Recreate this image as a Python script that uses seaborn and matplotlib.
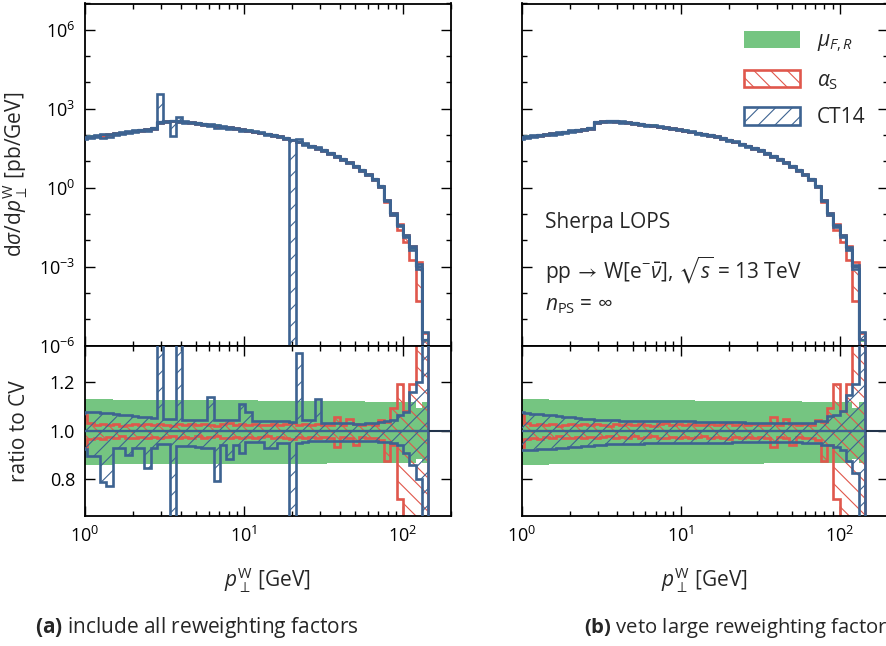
import numpy as np
import matplotlib
matplotlib.use("Agg")
import matplotlib.pyplot as plt
import seaborn as sns
from matplotlib.ticker import FixedLocator, FixedFormatter, NullFormatter
from matplotlib.patches import Patch

# ---------------- data ----------------
# log-spaced pT bins [GeV]
bin_edges = np.logspace(-0.0244, 2.1586, 56)

# central value dsigma/dpT [pb/GeV]
cv = [79.4, 85.1, 91.2, 97.7, 104.7, 112.2, 120.2, 128.8, 141.3, 151.4,
      162.2, 177.8, 302.0, 323.6, 338.8, 331.1, 316.2, 295.1, 275.4, 257.0,
      239.9, 223.9, 204.2, 190.5, 173.8, 158.5, 144.5, 131.8, 120.2, 109.6,
      97.7, 87.1, 75.9, 64.6, 55.0, 45.7, 38.0, 31.6, 26.3, 20.4,
      15.8, 12.0, 8.91, 6.46, 4.57, 3.16, 2.09, 1.12, 0.316, 0.100,
      0.0355, 0.0141, 0.0050, 0.0010, 1.6e-6]

# scale variations (ratio to CV)
muFR_hi = [1.130, 1.130, 1.129, 1.129, 1.129, 1.128, 1.128, 1.128, 1.128, 1.127,
           1.127, 1.127, 1.127, 1.127, 1.127, 1.127, 1.126, 1.126, 1.126, 1.126,
           1.126, 1.126, 1.125, 1.125, 1.125, 1.125, 1.125, 1.125, 1.124, 1.124,
           1.124, 1.124, 1.124, 1.123, 1.123, 1.123, 1.123, 1.122, 1.122, 1.122,
           1.122, 1.121, 1.121, 1.121, 1.121, 1.120, 1.120, 1.120, 1.120, 1.119,
           1.118, 1.118, 1.117, 1.092, 1.118]
muFR_lo = [0.860, 0.861, 0.861, 0.861, 0.861, 0.862, 0.862, 0.862, 0.862, 0.862,
           0.862, 0.862, 0.863, 0.863, 0.863, 0.863, 0.863, 0.863, 0.863, 0.863,
           0.864, 0.864, 0.864, 0.864, 0.864, 0.864, 0.864, 0.864, 0.864, 0.865,
           0.865, 0.865, 0.865, 0.865, 0.865, 0.865, 0.865, 0.865, 0.865, 0.866,
           0.866, 0.866, 0.866, 0.866, 0.866, 0.866, 0.867, 0.867, 0.867, 0.867,
           0.867, 0.868, 0.868, 0.882, 0.866]

# alpha_s variations (ratio to CV)
alphas_hi = [1.065, 1.030, 1.024, 1.028, 1.022, 1.027, 1.020, 1.024, 1.029, 1.022,
             1.026, 1.023, 1.028, 1.024, 1.021, 1.027, 1.023, 1.026, 1.022, 1.028,
             1.025, 1.021, 1.026, 1.030, 1.024, 1.027, 1.022, 1.029, 1.025, 1.023,
             1.028, 1.022, 1.026, 1.030, 1.024, 1.027, 1.023, 1.028, 1.024, 1.025,
             1.055, 1.024, 1.050, 1.027, 1.024, 1.029, 1.022, 1.045, 1.035, 1.095,
             1.190, 1.080, 1.190, 1.550, 1.900]
alphas_lo = [0.935, 0.965, 0.972, 0.968, 0.975, 0.970, 0.977, 0.972, 0.969, 0.976,
             0.971, 0.975, 0.970, 0.974, 0.978, 0.971, 0.975, 0.972, 0.977, 0.970,
             0.974, 0.978, 0.972, 0.969, 0.975, 0.971, 0.976, 0.970, 0.974, 0.977,
             0.971, 0.976, 0.972, 0.968, 0.975, 0.971, 0.976, 0.970, 0.974, 0.972,
             0.935, 0.974, 0.970, 0.943, 0.975, 0.969, 0.972, 0.962, 0.875, 0.940,
             0.720, 0.620, 0.350, 0.050, 0.010]

# CT14 PDF variations, (a) all reweighting factors
ct14_a_hi = [1.079, 1.077, 1.075, 1.073, 1.071, 1.069, 1.066, 1.064, 1.061, 1.058,
             1.055, 1.052, 12.00, 1.050, 1.049, 1.450, 1.046, 1.046, 1.045, 1.045,
             1.140, 1.045, 1.045, 1.044, 1.044, 1.110, 1.075, 1.039, 1.039, 1.038,
             1.038, 1.038, 1.038, 1.037, 1.320, 1.045, 1.045, 1.130, 1.031, 1.031,
             1.030, 1.030, 1.030, 1.029, 1.029, 1.030, 1.031, 1.034, 1.038, 1.045,
             1.065, 1.079, 1.160, 1.200, 2.000]
ct14_a_lo = [0.925, 0.895, 0.895, 0.790, 0.773, 0.929, 0.929, 0.902, 0.930, 0.930,
             0.848, 0.930, 0.945, 0.945, 0.280, 0.936, 0.936, 0.936, 0.935, 0.930,
             0.930, 0.793, 0.943, 0.884, 0.943, 0.910, 0.955, 0.955, 0.955, 0.929,
             0.929, 0.950, 0.950, 1e-9, 0.950, 0.955, 0.956, 0.957, 0.957, 0.957,
             0.957, 0.957, 0.957, 0.957, 0.957, 0.957, 0.957, 0.955, 0.952, 0.950,
             0.943, 0.910, 0.860, 0.800, 0.050]

# CT14 PDF variations, (b) large reweighting factors vetoed
ct14_b_hi = [1.075, 1.072, 1.070, 1.068, 1.066, 1.063, 1.060, 1.057, 1.055, 1.052,
             1.050, 1.047, 1.045, 1.044, 1.043, 1.043, 1.042, 1.042, 1.041, 1.041,
             1.040, 1.040, 1.040, 1.039, 1.039, 1.038, 1.038, 1.038, 1.037, 1.037,
             1.036, 1.036, 1.035, 1.035, 1.034, 1.034, 1.033, 1.033, 1.032, 1.032,
             1.031, 1.031, 1.030, 1.030, 1.030, 1.031, 1.033, 1.038, 1.042, 1.062,
             1.066, 1.080, 1.147, 1.190, 2.000]
ct14_b_lo = [0.922, 0.922, 0.923, 0.924, 0.925, 0.927, 0.929, 0.931, 0.933, 0.935,
             0.937, 0.939, 0.941, 0.943, 0.944, 0.945, 0.946, 0.946, 0.947, 0.947,
             0.948, 0.948, 0.948, 0.949, 0.949, 0.949, 0.950, 0.950, 0.950, 0.950,
             0.951, 0.951, 0.951, 0.951, 0.952, 0.952, 0.952, 0.952, 0.952, 0.952,
             0.952, 0.952, 0.952, 0.952, 0.952, 0.951, 0.950, 0.948, 0.943, 0.943,
             0.935, 0.922, 0.875, 0.827, 0.050]

legend_labels = [r"$\mu_{F,R}$", r"$\alpha_{\rm S}$", "CT14"]
captions = [r"$\mathbf{(a)}$ include all reweighting factors",
            r"$\mathbf{(b)}$ veto large reweighting factors"]

# ---------------- style ----------------
sns.set_style("ticks")
plt.rcParams["font.family"] = ["Open Sans", "DejaVu Sans"]
plt.rcParams["mathtext.fontset"] = "custom"
plt.rcParams["mathtext.rm"] = "Open Sans"
plt.rcParams["mathtext.it"] = "Open Sans:italic"
plt.rcParams["mathtext.bf"] = "Open Sans:bold"
plt.rcParams["mathtext.sf"] = "Open Sans"
plt.rcParams["mathtext.fallback"] = "stixsans"
plt.rcParams["hatch.linewidth"] = 0.8
plt.rcParams["axes.linewidth"] = 1.3

GREEN = "#75c581"
RED = "#e0574c"
BLUE = "#3d6391"
LINE1 = "#22334a"
HATCH_RED = "\\\\"
HATCH_BLUE = "//"

W, H = 887, 646
fig = plt.figure(figsize=(W / 100, H / 100), dpi=100)

def fx(px):
    return px / W

def fy(py):
    return 1 - py / H

left_x = [85.0, 521.7]
ax_w = 366.0
top_y0, top_y1 = 3.5, 345.5
rat_y1 = 516.0

cv_arr = np.asarray(cv)
ones = cv_arr / cv_arr

panels = [(ct14_a_lo, ct14_a_hi), (ct14_b_lo, ct14_b_hi)]

def style_axis(ax):
    ax.tick_params(which="both", direction="in", top=True, right=True,
                   width=1.0, colors="black")
    ax.tick_params(which="major", length=7.2, labelsize=13, pad=7)
    ax.tick_params(which="minor", length=3.6)
    for s in ax.spines.values():
        s.set_linewidth(1.3)
        s.set_color("black")

for p, (blo, bhi) in enumerate(panels):
    axt = fig.add_axes([fx(left_x[p]), fy(top_y1), fx(ax_w), (top_y1 - top_y0) / H])
    axr = fig.add_axes([fx(left_x[p]), fy(rat_y1), fx(ax_w), (rat_y1 - top_y1) / H],
                       sharex=axt)
    bands = [
        (muFR_lo, muFR_hi, dict(facecolor=GREEN, edgecolor="none", linewidth=0), 1),
        (alphas_lo, alphas_hi, dict(facecolor="none", edgecolor=RED, hatch=HATCH_RED,
                                    linewidth=1.9), 2),
        (blo, bhi, dict(facecolor="none", edgecolor=BLUE, hatch=HATCH_BLUE,
                        linewidth=1.9), 3),
    ]
    for lo, hi, kw, z in bands:
        lo = np.asarray(lo)
        hi = np.asarray(hi)
        axt.stairs(cv_arr * hi, bin_edges, baseline=cv_arr * lo, fill=True,
                   zorder=z, **kw)
        axr.stairs(hi, bin_edges, baseline=lo, fill=True, zorder=z, **kw)

    # central value lines
    sns.lineplot(x=bin_edges, y=np.append(cv_arr, cv_arr[-1]), ax=axt,
                 drawstyle="steps-post", color=BLUE, linewidth=1.6, zorder=4,
                 legend=False)
    axr.axhline(1.0, color=LINE1, linewidth=1.5, zorder=4)
    sns.lineplot(x=bin_edges, y=np.append(ones, ones[-1]), ax=axr,
                 drawstyle="steps-post", color=BLUE, linewidth=1.6, zorder=5,
                 legend=False)

    for ax in (axt, axr):
        ax.set_xscale("log")
        ax.set_xlim(1, 200)
        ax.xaxis.set_major_locator(FixedLocator([1, 10, 100]))
        ax.xaxis.set_minor_locator(FixedLocator(
            [2, 3, 4, 5, 6, 7, 8, 9, 20, 30, 40, 50, 60, 70, 80, 90, 200]))
        ax.xaxis.set_minor_formatter(NullFormatter())
        style_axis(ax)

    axt.set_yscale("log")
    axt.set_ylim(1e-6, 1e7)
    axt.yaxis.set_major_locator(FixedLocator([1e-6, 1e-3, 1, 1e3, 1e6]))
    axt.yaxis.set_major_formatter(FixedFormatter(
        [r"$10^{-6}$", r"$10^{-3}$", r"$10^{0}$", r"$10^{3}$", r"$10^{6}$"]))
    axt.yaxis.set_minor_locator(FixedLocator(
        [1e-5, 1e-4, 1e-2, 1e-1, 1e1, 1e2, 1e4, 1e5, 1e7]))
    axt.yaxis.set_minor_formatter(NullFormatter())
    axt.tick_params(axis="x", which="both", labelbottom=False)

    axr.set_ylim(0.65, 1.35)
    axr.yaxis.set_major_locator(FixedLocator([0.8, 1.0, 1.2]))
    axr.yaxis.set_major_formatter(FixedFormatter(["0.8", "1.0", "1.2"]))
    axr.yaxis.set_minor_locator(FixedLocator([]))
    axr.xaxis.set_major_formatter(FixedFormatter(
        [r"$10^{0}$", r"$10^{1}$", r"$10^{2}$"]))
    axr.set_xlabel(r"$p_\perp^{\rm W}$ [GeV]", fontsize=15)
    axr.xaxis.set_label_coords(0.5, -0.29)
    axt.set_xlabel("")
    axt.set_ylabel("")
    axr.set_ylabel("")

    if p == 0:
        axt.set_ylabel(r"d$\mathit{\sigma}$/d$p_\perp^{\rm W}$ [pb/GeV]", fontsize=15)
        axt.yaxis.set_label_coords(-0.15, 0.5)
        axr.set_ylabel("ratio to CV", fontsize=15)
        axr.yaxis.set_label_coords(-0.15, 0.5)
    else:
        axt.tick_params(axis="y", which="both", labelleft=False)
        axr.tick_params(axis="y", which="both", labelleft=False)
        handles = [
            Patch(facecolor=GREEN, edgecolor="none", linewidth=0),
            Patch(facecolor="none", edgecolor=RED, hatch=HATCH_RED, linewidth=1.9),
            Patch(facecolor="none", edgecolor=BLUE, hatch=HATCH_BLUE, linewidth=1.9),
        ]
        axt.legend(handles, legend_labels, loc="upper right",
                   bbox_to_anchor=(0.99, 0.975), frameon=False, fontsize=15,
                   handlelength=2.7, handleheight=0.9, handletextpad=0.8,
                   labelspacing=0.75)
        axt.text(0.064, 0.361, "Sherpa LOPS", transform=axt.transAxes,
                 fontsize=15, va="center", ha="left")
        axt.text(0.064, 0.22,
                 r"pp$\,\rightarrow\,$W[e$^{-}\bar{\nu}$], $\sqrt{s}$ = 13 TeV",
                 transform=axt.transAxes, fontsize=15, va="center", ha="left")
        axt.text(0.064, 0.118, r"$n_{\rm PS}$ = $\infty$",
                 transform=axt.transAxes, fontsize=15, va="center", ha="left")

fig.text(fx(35), fy(628), captions[0], fontsize=15, va="center", ha="left")
fig.text(fx(584), fy(628), captions[1], fontsize=14.6, va="center", ha="left")

fig.savefig("out.png", dpi=100)
